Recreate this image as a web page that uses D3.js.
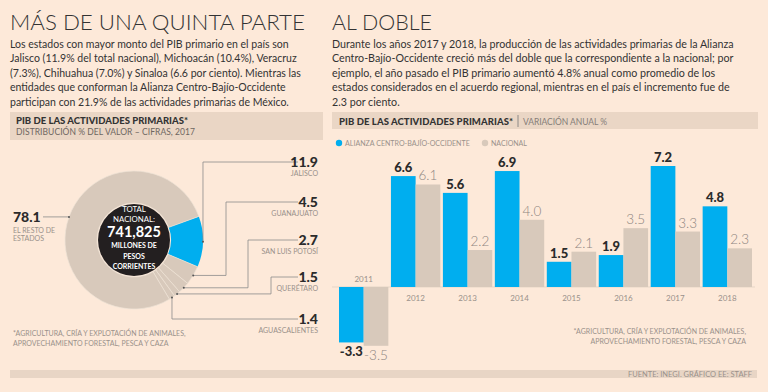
<!DOCTYPE html>
<html>
<head>
<meta charset="utf-8">
<script src="https://cdn.jsdelivr.net/npm/d3@7"></script>
<style>
  html, body { margin: 0; padding: 0; background: #fde9d9; }
  svg { display: block; font-family: Lato, "Open Sans", sans-serif; }
</style>
</head>
<body>
<svg id="chart" width="768" height="392"></svg>
<script>
// ---- data ----
var states = ["Jalisco", "Guanajuato", "San Luis Potosí", "Querétaro", "Aguascalientes", "El resto de estados"];
var shares = [11.9, 4.5, 2.7, 1.5, 1.4, 78.1];
var years = ["2011", "2012", "2013", "2014", "2015", "2016", "2017", "2018"];
var alianza = [-3.3, 6.6, 5.6, 6.9, 1.5, 1.9, 7.2, 4.8];
var nacional = [-3.5, 6.1, 2.2, 4.0, 2.1, 3.5, 3.3, 2.3];
var series = ["ALIANZA CENTRO-BAJÍO-OCCIDENTE", "NACIONAL"];

var leftTitle = "MÁS DE UNA QUINTA PARTE";
var leftText = [
  "Los estados con mayor monto del PIB primario en el país son",
  "Jalisco (11.9% del total nacional), Michoacán (10.4%), Veracruz",
  "(7.3%), Chihuahua (7.0%) y Sinaloa (6.6 por ciento). Mientras las",
  "entidades que conforman la Alianza Centro-Bajío-Occidente",
  "participan con 21.9% de las actividades primarias de México."
];
var rightTitle = "AL DOBLE";
var rightText = [
  "Durante los años 2017 y 2018, la producción de las actividades primarias de la Alianza",
  "Centro-Bajío-Occidente creció más del doble que la correspondiente a la nacional; por",
  "ejemplo, el año pasado el PIB primario aumentó 4.8% anual como promedio de los",
  "estados considerados en el acuerdo regional, mientras en el país el incremento fue de",
  "2.3 por ciento."
];
var chartTitle = "PIB DE LAS ACTIVIDADES PRIMARIAS*";
var footnote = ["*AGRICULTURA, CRÍA Y EXPLOTACIÓN DE ANIMALES,", "APROVECHAMIENTO FORESTAL, PESCA Y CAZA"];

var blue = "#00aeef", beige = "#d8c9bb", ink = "#2b2b2b", soft = "#9a918b";

var svg = d3.select("#chart");

// shrink/grow a group of texts so its widest line gets a given width
function fit(sel, w){
  var widest = 0;
  sel.each(function(){ widest = Math.max(widest, this.getComputedTextLength()); });
  var fs = parseFloat(sel.attr("font-size"));
  sel.attr("font-size", fs * w / widest);
}

// ---- titles and intro text ----
function intro(x, title, lines, titleW, textW){
  var t = svg.append("text").attr("x", x).attr("y", 30)
    .attr("font-size", 24).attr("font-weight", 300).attr("fill", "#333")
    .text(title);
  fit(t, titleW);
  var body = svg.append("g").selectAll("text").data(lines).enter().append("text")
    .attr("x", x).attr("y", function(d, i){ return 48 + i * 14.4; })
    .attr("font-size", 12).attr("fill", "#333")
    .text(function(d){ return d; });
  fit(body, textW);
}
intro(10, leftTitle, leftText, 295, 291);
intro(332, rightTitle, rightText, 100, 402);

// header bars
svg.append("rect").attr("x", 10).attr("y", 112).attr("width", 313).attr("height", 28).attr("fill", "#ead6c5");
svg.append("text").attr("x", 16).attr("y", 124).attr("font-size", 9.5).attr("font-weight", 900)
  .attr("textLength", 172).attr("lengthAdjust", "spacing").attr("fill", "#333").text(chartTitle);
svg.append("text").attr("x", 16).attr("y", 135).attr("font-size", 8.5).attr("fill", "#6e6661")
  .attr("textLength", 179).attr("lengthAdjust", "spacing")
  .text("DISTRIBUCIÓN % DEL VALOR – CIFRAS, 2017");

svg.append("rect").attr("x", 332).attr("y", 112).attr("width", 426).attr("height", 17).attr("fill", "#ead6c5");
svg.append("text").attr("x", 339).attr("y", 124.5).attr("font-size", 9.5).attr("font-weight", 900)
  .attr("textLength", 174).attr("lengthAdjust", "spacing").attr("fill", "#333").text(chartTitle);
svg.append("line").attr("x1", 518).attr("x2", 518).attr("y1", 115).attr("y2", 127)
  .attr("stroke", "#777").attr("stroke-width", 0.8);
svg.append("text").attr("x", 523).attr("y", 124.5).attr("font-size", 8.5).attr("fill", "#857d78")
  .attr("textLength", 84).attr("lengthAdjust", "spacing")
  .text("VARIACIÓN ANUAL %");

// footer
svg.append("rect").attr("x", 10).attr("y", 370).attr("width", 747).attr("height", 8).attr("fill", "#e8d5c5");
svg.append("text").attr("x", 752).attr("y", 377).attr("text-anchor", "end")
  .attr("font-size", 7.5).attr("fill", soft).text("FUENTE: INEGI. GRÁFICO EE: STAFF");

// ---- donut ----
var cx = 134, cy = 240, rOut = 69, rIn = 37;
var pie = d3.pie().sort(null)
  .startAngle(70 * Math.PI / 180).endAngle(70 * Math.PI / 180 + 2 * Math.PI);
var arcs = pie(shares);
var arc = d3.arc().innerRadius(rIn).outerRadius(rOut);

var donut = svg.append("g").attr("transform", "translate(" + cx + "," + cy + ")");
donut.selectAll("path").data(arcs).enter().append("path")
  .attr("d", arc)
  .attr("fill", function(d, i){ return i === 0 ? blue : beige; })
  .attr("stroke", function(d, i){ return i === 0 ? "none" : "#eee2d6"; })
  .attr("stroke-width", 0.7);
donut.append("circle").attr("r", 36).attr("fill", "#231f20");

var centerLines = [
  {t: "TOTAL", y: -28.5, s: 7.8, w: 400},
  {t: "NACIONAL:", y: -18.5, s: 7.8, w: 400},
  {t: "741,825", y: -3.5, s: 14.5, w: 700},
  {t: "MILLONES DE", y: 8, s: 7, w: 700},
  {t: "PESOS", y: 19, s: 7, w: 700},
  {t: "CORRIENTES", y: 29, s: 7, w: 700}
];
donut.selectAll("text.c").data(centerLines).enter().append("text")
  .attr("text-anchor", "middle").attr("y", function(d){ return d.y; })
  .attr("font-size", function(d){ return d.s; }).attr("font-weight", function(d){ return d.w; })
  .attr("fill", "#fff").text(function(d){ return d.t; });

// leader layout for the five states (elbow x, label y); null elbow = straight vertical
var leaders = [
  {elbow: null, ly: 162},
  {elbow: 226, ly: 202},
  {elbow: 248, ly: 240},
  {elbow: 271, ly: 277},
  {elbow: null, ly: 319}
];
var labelRight = 318;
leaders.forEach(function(L, i){
  var a = (arcs[i].startAngle + arcs[i].endAngle) / 2;
  var px = cx + Math.sin(a) * rOut, py = cy - Math.cos(a) * rOut;
  var ex = L.elbow === null ? px : L.elbow;
  var pts = [[px, py], [ex, py], [ex, L.ly], [labelRight - 20, L.ly]];
  svg.append("path").attr("d", d3.line()(pts))
    .attr("fill", "none").attr("stroke", "#8a8a8a").attr("stroke-width", 0.8);
  svg.append("circle").attr("cx", px).attr("cy", py).attr("r", 1).attr("fill", "#555");
  svg.append("text").attr("x", labelRight).attr("y", L.ly + 5).attr("text-anchor", "end")
    .attr("font-size", 14).attr("font-weight", 900).attr("fill", ink)
    .text(d3.format(".1f")(shares[i]));
  svg.append("text").attr("x", labelRight).attr("y", L.ly + 14).attr("text-anchor", "end")
    .attr("font-size", 7).attr("fill", soft).text(states[i].toUpperCase());
});

// rest of states label
var restA = (arcs[5].startAngle + arcs[5].endAngle) / 2;
var restX = cx + Math.sin(restA) * rOut, restY = cy - Math.cos(restA) * rOut;
svg.append("line").attr("x1", 43).attr("x2", restX)
  .attr("y1", restY).attr("y2", restY).attr("stroke", "#8a8a8a").attr("stroke-width", 0.8);
svg.append("circle").attr("cx", restX).attr("cy", restY).attr("r", 1).attr("fill", "#555");
svg.append("text").attr("x", 13).attr("y", restY + 5).attr("font-size", 14).attr("font-weight", 900)
  .attr("fill", ink).text(d3.format(".1f")(shares[5]));
svg.append("text").attr("x", 13).attr("y", restY + 16).attr("font-size", 7).attr("fill", soft).text("EL RESTO DE");
svg.append("text").attr("x", 13).attr("y", restY + 24).attr("font-size", 7).attr("fill", soft).text("ESTADOS");

svg.append("g").selectAll("text").data(footnote).enter().append("text")
  .attr("x", 13).attr("y", function(d, i){ return 336 + i * 10; })
  .attr("font-size", 7).attr("fill", soft)
  .text(function(d, i){ return i === 0 ? d : " " + d; });

// ---- bar chart ----
var x = d3.scaleBand().domain(years).range([339, 752]).paddingInner(0.05);
var xs = d3.scaleBand().domain(series).range([0, x.bandwidth()]);
var y = d3.scaleLinear().domain([-3.5, 7.2]).range([345.8, 166]);

var rows = years.map(function(yr, i){ return {year: yr, vals: [alianza[i], nacional[i]]}; });

// legend
var leg = svg.append("g");
series.forEach(function(s, i){
  var lx = i === 0 ? 339 : 485;
  leg.append("circle").attr("cx", lx).attr("cy", 143).attr("r", 3.2).attr("fill", i === 0 ? blue : beige);
  var t = leg.append("text").attr("x", lx + 6).attr("y", 146).attr("font-size", 8).attr("fill", soft).text(s);
  fit(t, i === 0 ? 125 : 36);
});

svg.append("line").attr("x1", 332).attr("x2", 755).attr("y1", y(0)).attr("y2", y(0))
  .attr("stroke", "#e6d6c8").attr("stroke-width", 1);

var grp = svg.append("g").selectAll("g").data(rows).enter().append("g")
  .attr("transform", function(d){ return "translate(" + x(d.year) + ",0)"; });

grp.selectAll("rect").data(function(d){ return d.vals; }).enter().append("rect")
  .attr("x", function(d, i){ return xs(series[i]); })
  .attr("width", xs.bandwidth())
  .attr("y", function(d){ return y(Math.max(0, d)); })
  .attr("height", function(d){ return Math.abs(y(d) - y(0)); })
  .attr("fill", function(d, i){ return i === 0 ? blue : beige; });

grp.selectAll("text.v").data(function(d){ return d.vals; }).enter().append("text")
  .attr("class", "v")
  .attr("x", function(d, i){ return xs(series[i]) + xs.bandwidth() / 2; })
  .attr("y", function(d){ return d >= 0 ? y(d) - 4 : y(d) + 14; })
  .attr("text-anchor", "middle")
  .attr("font-size", function(d, i){ return i === 0 ? 13 : 13.5; })
  .attr("font-weight", function(d, i){ return i === 0 ? 900 : 300; })
  .attr("fill", function(d, i){ return i === 0 ? ink : "#8d8580"; })
  .text(function(d){ return d3.format(".1f")(d).replace("−", "-"); });

grp.append("text")
  .attr("x", x.bandwidth() / 2)
  .attr("y", function(d, i){ return alianza[i] < 0 ? y(0) - 5 : y(0) + 14; })
  .attr("text-anchor", "middle").attr("font-size", 8).attr("fill", soft)
  .text(function(d){ return d.year; });

svg.append("g").selectAll("text").data(footnote).enter().append("text")
  .attr("x", 746).attr("y", function(d, i){ return 334 + i * 10; })
  .attr("text-anchor", "end").attr("font-size", 7).attr("fill", soft)
  .text(function(d){ return d; });
</script>
</body>
</html>
